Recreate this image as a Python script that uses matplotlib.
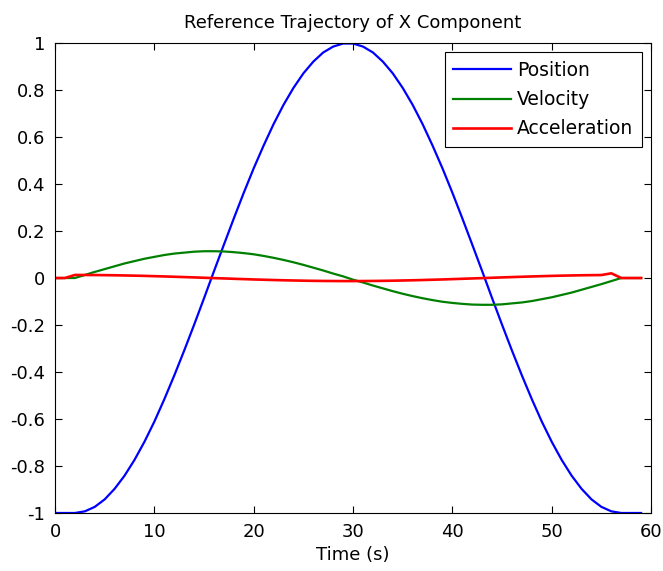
import numpy as np
import matplotlib
matplotlib.use("Agg")
import matplotlib.pyplot as plt

plt.rcParams['font.family'] = ['DejaVu Sans']

# sample times (s): traces run from 0 to 59
time = list(range(60))

position = [-1.0, -1.0, -1.0, -0.993, -0.974, -0.942, -0.897, -0.841, -0.774, -0.697,
            -0.611, -0.516, -0.415, -0.309, -0.199, -0.086, 0.029, 0.142, 0.254, 0.363,
            0.467, 0.564, 0.655, 0.737, 0.809, 0.871, 0.921, 0.960, 0.985, 0.998,
            0.998, 0.985, 0.960, 0.921, 0.871, 0.809, 0.737, 0.655, 0.564, 0.467,
            0.363, 0.254, 0.142, 0.029, -0.086, -0.199, -0.309, -0.415, -0.516, -0.611,
            -0.697, -0.774, -0.841, -0.897, -0.942, -0.974, -0.993, -1.0, -1.0, -1.0]

velocity = [0.0, 0.0, 0.0, 0.013, 0.026, 0.038, 0.050, 0.062, 0.072, 0.082,
            0.090, 0.098, 0.104, 0.108, 0.112, 0.114, 0.114, 0.113, 0.110, 0.106,
            0.101, 0.094, 0.086, 0.077, 0.067, 0.056, 0.044, 0.032, 0.019, 0.007,
            -0.007, -0.019, -0.032, -0.044, -0.056, -0.067, -0.077, -0.086, -0.094, -0.101,
            -0.106, -0.110, -0.113, -0.114, -0.114, -0.112, -0.108, -0.104, -0.098, -0.090,
            -0.082, -0.072, -0.062, -0.050, -0.038, -0.026, -0.013, 0.0, 0.0, 0.0]

acceleration = [0.0, 0.0, 0.013, 0.0129, 0.0127, 0.0122, 0.0117, 0.0109, 0.0101, 0.0091,
                0.0079, 0.0067, 0.0054, 0.0040, 0.0026, 0.0011, -0.0004, -0.0018, -0.0033, -0.0047,
                -0.0061, -0.0073, -0.0085, -0.0096, -0.0105, -0.0113, -0.0120, -0.0125, -0.0128, -0.0130,
                -0.0130, -0.0128, -0.0125, -0.0120, -0.0113, -0.0105, -0.0096, -0.0085, -0.0073, -0.0061,
                -0.0047, -0.0033, -0.0018, -0.0004, 0.0011, 0.0026, 0.0040, 0.0054, 0.0067, 0.0079,
                0.0091, 0.0101, 0.0109, 0.0117, 0.0122, 0.0127, 0.020, 0.0, 0.0, 0.0]

x_ticks = [0, 10, 20, 30, 40, 50, 60]
y_ticks = [-1, -0.8, -0.6, -0.4, -0.2, 0, 0.2, 0.4, 0.6, 0.8, 1]
y_labels = ['-1', '-0.8', '-0.6', '-0.4', '-0.2', '0', '0.2', '0.4', '0.6', '0.8', '1']

fig = plt.figure(figsize=(6.63, 5.71), dpi=100)
ax = fig.add_axes([0.083, 0.1016, 0.899, 0.823])

ax.plot(time, position, color='#0000ff', linewidth=1.6, label='Position')
ax.plot(time, velocity, color='#008000', linewidth=1.6, label='Velocity')
ax.plot(time, acceleration, color='#ff0000', linewidth=1.9, label='Acceleration')

ax.set_xlim(0, 60)
ax.set_ylim(-1, 1)
ax.set_xticks(x_ticks)
ax.set_yticks(y_ticks)
ax.set_yticklabels(y_labels)
ax.tick_params(direction='in', length=5, width=0.8, top=True, right=True,
               labelsize=13, pad=7)
for s in ax.spines.values():
    s.set_linewidth(0.8)

ax.set_title('Reference Trajectory of X Component', fontsize=13, pad=11)
ax.set_xlabel('Time (s)', fontsize=13, labelpad=4)

leg = ax.legend(loc='upper right', fontsize=13.5, frameon=True, fancybox=False,
                edgecolor='black', framealpha=1, handlelength=3.1,
                handletextpad=0.3, borderpad=0.45, labelspacing=0.55,
                borderaxespad=0.5)
leg.get_frame().set_linewidth(0.8)

fig.savefig('out.png', dpi=100)
